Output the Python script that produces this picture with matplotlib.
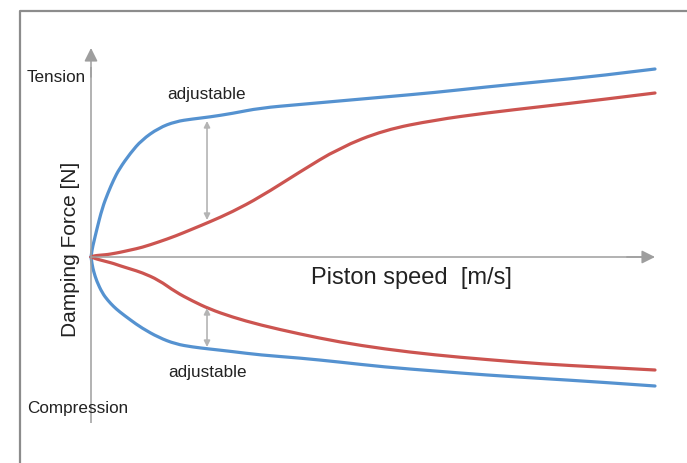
import matplotlib
matplotlib.use("Agg")
import matplotlib.pyplot as plt
from matplotlib.lines import Line2D
from matplotlib.path import Path
from matplotlib.patches import PathPatch

plt.rcParams['font.family'] = ['Liberation Sans', 'DejaVu Sans']

# piston speed (arbitrary units, 0..1) and damping force (arbitrary units)
speed = [0, 0.002, 0.005, 0.01, 0.02, 0.03, 0.04, 0.05, 0.07, 0.09, 0.12, 0.15,
         0.18, 0.21, 0.25, 0.3, 0.37, 0.44, 0.52, 0.61, 0.7, 0.8, 0.9, 1.0]
tension_hard = [0, 0.08, 0.15, 0.27, 0.49, 0.64, 0.77, 0.88, 1.04, 1.17, 1.29, 1.355,
                1.38, 1.40, 1.435, 1.49, 1.525, 1.56, 1.60, 1.645, 1.70, 1.755, 1.81, 1.88]
tension_soft = [0, 0.005, 0.01, 0.015, 0.02, 0.025, 0.035, 0.045, 0.07, 0.095, 0.15, 0.21,
                0.28, 0.35, 0.45, 0.60, 0.85, 1.09, 1.27, 1.37, 1.44, 1.505, 1.57, 1.64]
compr_soft = [0, -0.005, -0.01, -0.02, -0.035, -0.05, -0.065, -0.085, -0.12, -0.155, -0.23, -0.35,
              -0.44, -0.52, -0.60, -0.68, -0.77, -0.85, -0.92, -0.98, -1.025, -1.07, -1.10, -1.13]
compr_hard = [0, -0.08, -0.15, -0.24, -0.36, -0.435, -0.495, -0.545, -0.63, -0.71, -0.805, -0.87,
              -0.90, -0.92, -0.945, -0.98, -1.01, -1.05, -1.10, -1.14, -1.18, -1.215, -1.25, -1.29]

# where the "adjustable" arrows sit
adj_speed = 0.2057
adj_upper = (1.36, 0.37)
adj_lower = (-0.51, -0.90)

blue = '#5592d0'
red = '#cc5450'
grey = '#9e9e9e'
txt = '#222222'


def smooth_curve(ax, xs, ys, color):
    """draw the read points as a smooth quadratic b-spline path"""
    pts = list(zip(xs, ys))
    n = len(pts)
    verts = [pts[0]]
    codes = [Path.MOVETO]
    for i in range(1, n - 1):
        if i == n - 2:
            end = pts[n - 1]
        else:
            end = ((pts[i][0] + pts[i + 1][0]) / 2, (pts[i][1] + pts[i + 1][1]) / 2)
        verts += [pts[i], end]
        codes += [Path.CURVE3, Path.CURVE3]
    ax.add_patch(PathPatch(Path(verts, codes), fill=False, edgecolor=color,
                           lw=2.3, capstyle='round', joinstyle='round'))


fig = plt.figure(figsize=(6.87, 4.63), dpi=100)
ax = fig.add_axes([0, 0, 1, 1])
ax.set_xlim(-91 / 564, (687 - 91) / 564)
ax.set_ylim(-2.06, 2.57)
ax.axis('off')

# frame (open to the right and bottom)
fx, fy = 20 / 687, 1 - 11 / 463
fig.add_artist(Line2D([fx, fx, 1.0], [0, fy, fy], transform=fig.transFigure,
                      color='#8c8c8c', lw=1.6))

# axes with arrow heads
ax.plot([0, 0], [-1.66, 1.9], color=grey, lw=1.1, solid_capstyle='butt')
ax.annotate('', xy=(0, 2.09), xytext=(0, 1.8),
            arrowprops=dict(arrowstyle='-|>', color=grey, lw=1.1, mutation_scale=20,
                            shrinkA=0, shrinkB=0))
ax.plot([0, 0.98], [0, 0], color=grey, lw=1.1, solid_capstyle='butt')
ax.annotate('', xy=(1.0, 0), xytext=(0.95, 0),
            arrowprops=dict(arrowstyle='-|>', color=grey, lw=1.1, mutation_scale=20,
                            shrinkA=0, shrinkB=0))

# curves
smooth_curve(ax, speed, tension_hard, blue)
smooth_curve(ax, speed, compr_hard, blue)
smooth_curve(ax, speed, tension_soft, red)
smooth_curve(ax, speed, compr_soft, red)

# adjustable arrows
for a, b in (adj_upper, adj_lower):
    ax.annotate('', xy=(adj_speed, a), xytext=(adj_speed, b),
                arrowprops=dict(arrowstyle='<|-|>', color='#b4b4b4', lw=1.2,
                                mutation_scale=9, shrinkA=0, shrinkB=0))

# texts
fs_small = 12.3
ax.text(-0.1135, 1.79, 'Tension', ha='left', va='center', fontsize=fs_small, color=txt)
ax.text(-0.1135, -1.52, 'Compression', ha='left', va='center', fontsize=fs_small, color=txt)
ax.text(0.1348, 1.63, 'adjustable', ha='left', va='center', fontsize=fs_small, color=txt)
ax.text(0.1365, -1.16, 'adjustable', ha='left', va='center', fontsize=fs_small, color=txt)
ax.text(0.390, -0.21, 'Piston speed  [m/s]', ha='left', va='center', fontsize=17, color=txt)
ax.text(-0.0355, 0.08, 'Damping Force [N]', ha='center', va='center', rotation=90,
        fontsize=15, color=txt)

fig.savefig('out.png', dpi=100)
